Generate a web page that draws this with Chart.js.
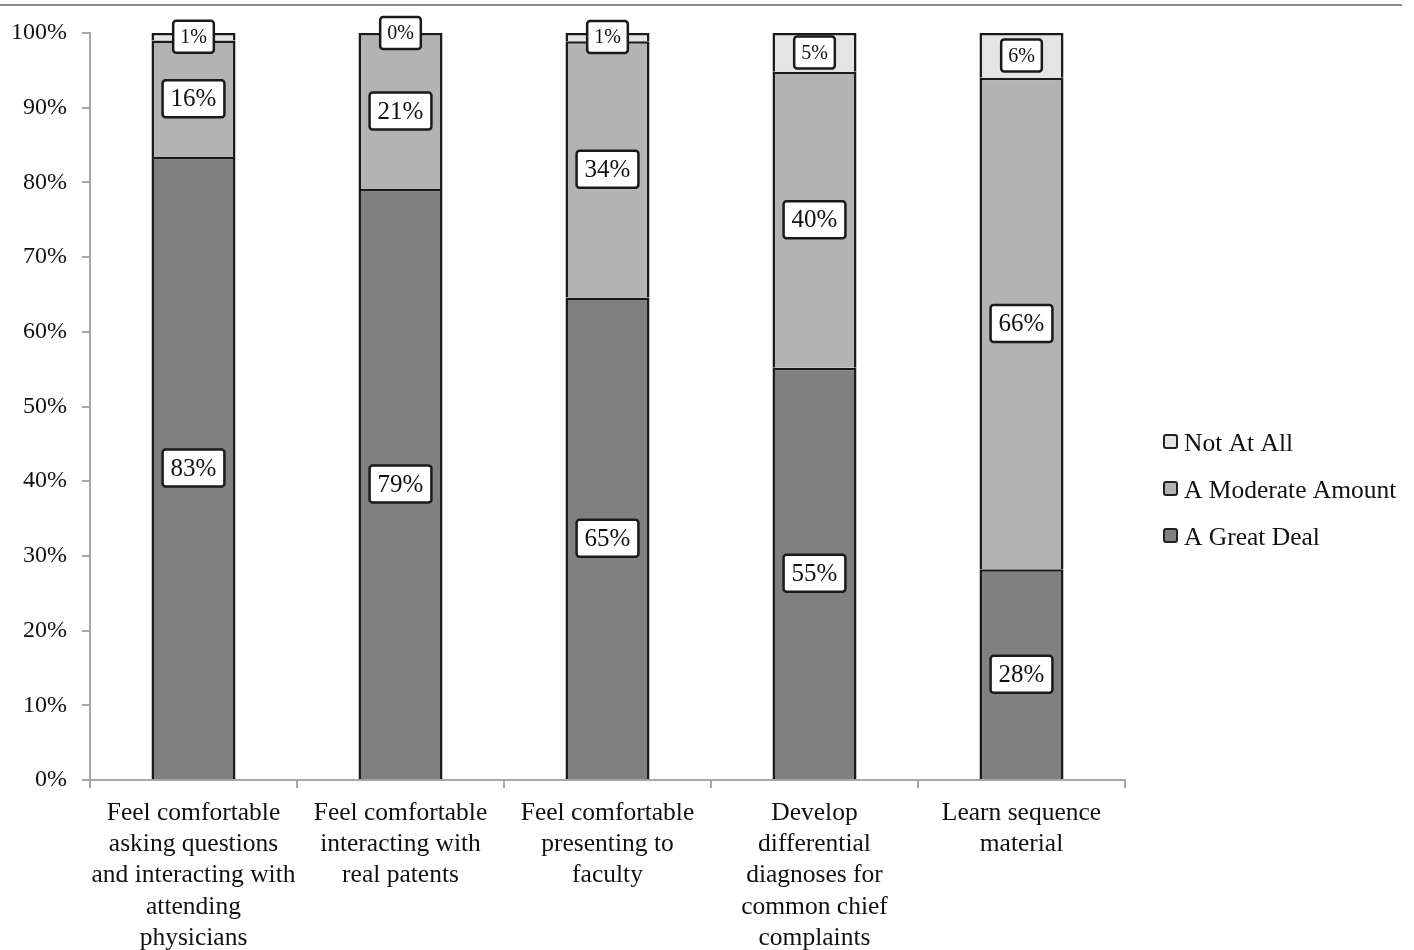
<!DOCTYPE html>
<html>
<head>
<meta charset="utf-8">
<script src="https://cdn.jsdelivr.net/npm/chart.js@4.4.1/dist/chart.umd.min.js"></script>
<style>
  html, body { margin: 0; padding: 0; background: #fff; }
  #wrap { position: relative; width: 1414px; height: 950px; }
  #topline { position: absolute; left: 0; top: 4px; width: 1402px; height: 0; border-top: 2px solid #8a8a8a; }
  canvas { position: absolute; left: 0; top: 0; }
</style>
</head>
<body>
<div id="wrap">
  <canvas id="c" width="1414" height="950"></canvas>
  <div id="topline"></div>
</div>
<script>
const categories = [
  ["Feel comfortable", "asking questions", "and interacting with", "attending", "physicians"],
  ["Feel comfortable", "interacting with", "real patents"],
  ["Feel comfortable", "presenting to", "faculty"],
  ["Develop", "differential", "diagnoses for", "common chief", "complaints"],
  ["Learn sequence", "material"]
];
const seriesNames = ["A Great Deal", "A Moderate Amount", "Not At All"];
const greatDeal = [83.4, 79.1, 64.6, 55.2, 28.2];
const moderateAmount = [15.6, 20.9, 34.3, 39.6, 65.8];
const notAtAll = [1.0, 0.0, 1.1, 5.2, 6.0];
const yTicks = [0, 10, 20, 30, 40, 50, 60, 70, 80, 90, 100];

const SERIF = "'Liberation Serif', 'Times New Roman', serif";
const colors = ["#808080", "#b3b3b3", "#e4e4e4"];

const boxLabels = {
  id: 'boxLabels',
  afterDatasetsDraw(chart) {
    const ctx = chart.ctx;
    chart.data.datasets.forEach((ds, di) => {
      const meta = chart.getDatasetMeta(di);
      const small = di === 2;
      const fs = small ? 20 : 25;
      meta.data.forEach((bar, i) => {
        const v = ds.data[i];
        const txt = Math.round(v) + '%';
        const cy = (bar.y + bar.base) / 2;
        ctx.save();
        ctx.font = fs + 'px ' + SERIF;
        const tw = ctx.measureText(txt).width;
        const padX = small ? 7 : 8;
        const h = small ? 32 : 37;
        const w = tw + padX * 2;
        const x0 = bar.x - w / 2, y0 = cy - h / 2;
        ctx.beginPath();
        if (ctx.roundRect) ctx.roundRect(x0, y0, w, h, 3); else ctx.rect(x0, y0, w, h);
        ctx.fillStyle = '#fff';
        ctx.fill();
        ctx.lineWidth = 2.5;
        ctx.strokeStyle = '#1a1a1a';
        ctx.stroke();
        ctx.fillStyle = '#111';
        ctx.textAlign = 'center';
        ctx.textBaseline = 'middle';
        ctx.fillText(txt, bar.x, cy + 1);
        ctx.restore();
      });
    });
  }
};

const sideLegend = {
  id: 'sideLegend',
  afterDraw(chart) {
    const ctx = chart.ctx;
    const x = chart.chartArea.right + 39;
    const yCenter = 490;
    const gap = 47;
    const ds = chart.data.datasets.slice().reverse();
    ctx.save();
    ctx.font = '25.5px ' + SERIF;
    ctx.textBaseline = 'middle';
    ctx.textAlign = 'left';
    ds.forEach((d, k) => {
      const y = yCenter + (k - (ds.length - 1) / 2) * gap;
      ctx.beginPath();
      if (ctx.roundRect) ctx.roundRect(x, y - 8, 13, 13, 2); else ctx.rect(x, y - 8, 13, 13);
      ctx.fillStyle = d.backgroundColor;
      ctx.fill();
      ctx.lineWidth = 2;
      ctx.strokeStyle = '#222';
      ctx.stroke();
      ctx.fillStyle = '#111';
      ctx.fillText(d.label, x + 20, y + 1);
    });
    ctx.restore();
  }
};

new Chart(document.getElementById('c'), {
  type: 'bar',
  data: {
    labels: categories,
    datasets: [
      { label: seriesNames[0], data: greatDeal, backgroundColor: colors[0] },
      { label: seriesNames[1], data: moderateAmount, backgroundColor: colors[1] },
      { label: seriesNames[2], data: notAtAll, backgroundColor: colors[2] }
    ].map(d => Object.assign(d, { borderColor: '#1a1a1a', borderWidth: 2.5, categoryPercentage: 0.406, barPercentage: 1 }))
  },
  options: {
    responsive: false,
    animation: false,
    devicePixelRatio: 1,
    layout: { padding: { left: 0, right: 289, top: 33, bottom: 0 } },
    plugins: { legend: { display: false }, tooltip: { enabled: false } },
    scales: {
      x: {
        stacked: true,
        afterFit: s => { s.height = 170; },
        border: { color: '#a6a6a6', width: 2 },
        grid: { drawOnChartArea: false, tickLength: 8, color: '#a6a6a6', lineWidth: 2, offset: true },
        ticks: { color: '#111', font: { family: SERIF, size: 25.5, lineHeight: 1.22 }, padding: 10, maxRotation: 0, autoSkip: false }
      },
      y: {
        stacked: true,
        min: 0, max: 100,
        afterFit: s => { s.width = 90; },
        afterBuildTicks: s => { s.ticks = yTicks.map(v => ({ value: v })); },
        border: { color: '#a6a6a6', width: 2 },
        grid: { drawOnChartArea: false, tickLength: 8, color: '#a6a6a6', lineWidth: 2 },
        ticks: { color: '#111', font: { family: SERIF, size: 24 }, padding: 15, callback: v => v + '%' }
      }
    }
  },
  plugins: [boxLabels, sideLegend]
});
</script>
</body>
</html>
